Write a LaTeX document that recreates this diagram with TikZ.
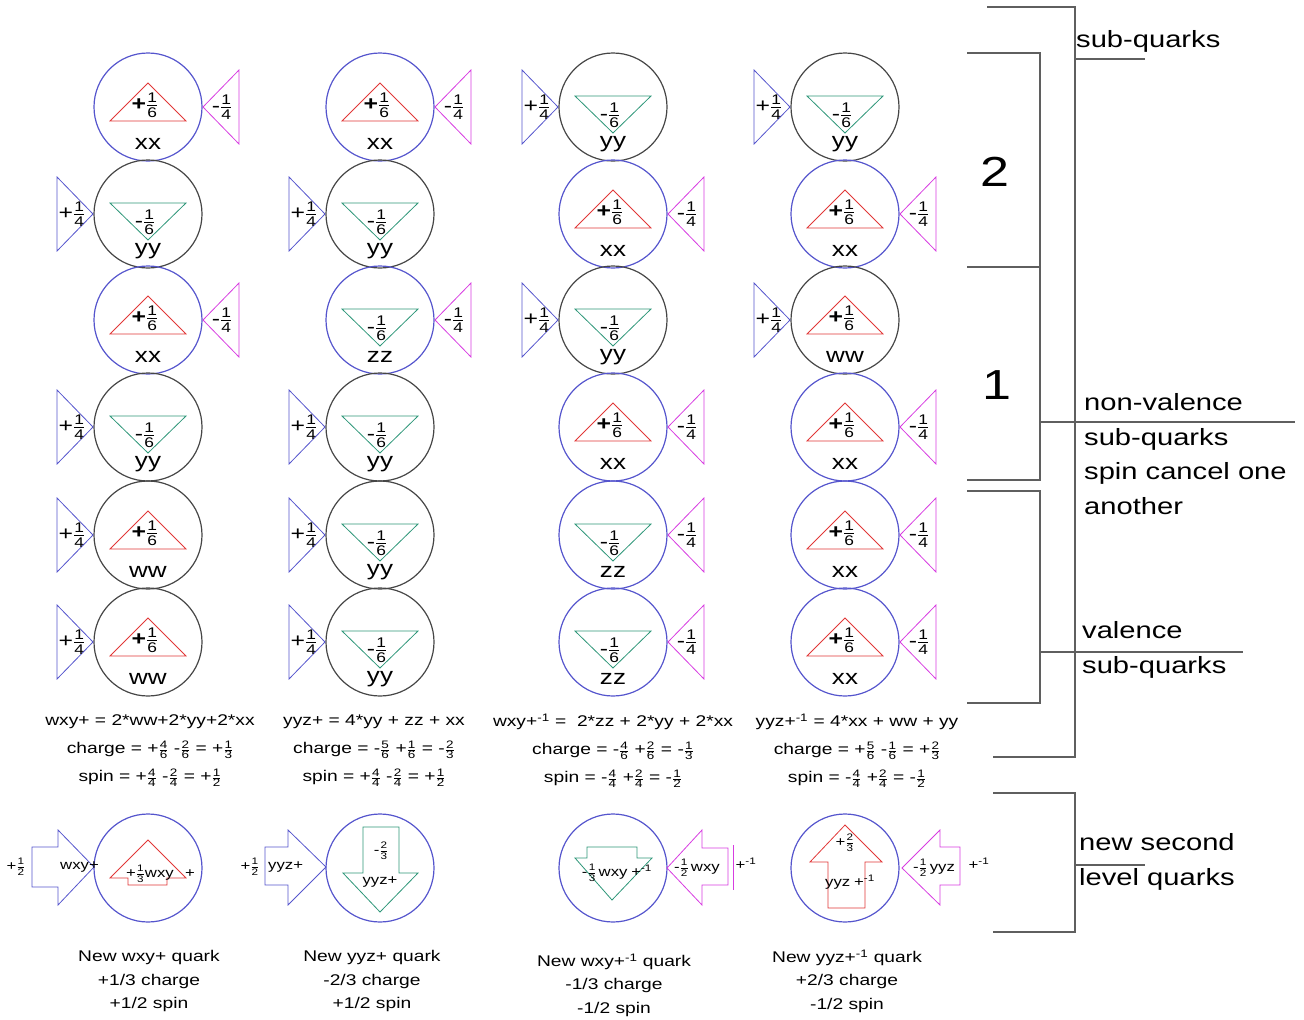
\documentclass[tikz,border=0pt]{standalone}
\usepackage{amsmath}
\usepackage{fontspec}
\setmainfont{Liberation Sans}[FakeStretch=1.24]
\usepackage{tikz}

\definecolor{qblue}{RGB}{85,85,205}
\definecolor{qgray}{RGB}{70,70,70}
\definecolor{qred}{RGB}{225,55,55}
\definecolor{qgreen}{RGB}{45,150,120}
\definecolor{qmag}{RGB}{215,60,225}
\definecolor{qline}{RGB}{95,95,95}

\newcommand{\qfrac}[2]{$\frac{\text{#1}}{\text{#2}}$}
\newcommand{\fsz}[1]{\fontsize{#1}{#1}\selectfont}

\tikzset{
  bluecirc/.style={draw=qblue, line width=1.2pt},
  graycirc/.style={draw=qgray, line width=1.2pt},
  redtri/.style={draw=qred, line width=0.8pt},
  greentri/.style={draw=qgreen, line width=0.8pt},
  spinleft/.style={draw=qblue, line width=0.8pt},
  spinright/.style={draw=qmag, line width=0.8pt},
  qtxt/.style={inner sep=0pt, font=\fsz{20}},
  smtxt/.style={inner sep=0pt, font=\fsz{13.5}},
  lab/.style={inner sep=0pt, font=\fsz{21}},
  eqtxt/.style={align=center, inner sep=0pt, font=\fontsize{15.5}{28}\selectfont},
  captxt/.style={align=center, inner sep=0pt, font=\fontsize{15.5}{23.5}\selectfont},
  bline/.style={draw=qline, line width=1.3pt},
  sidetxt/.style={anchor=west, inner sep=0pt, align=left, font=\fontsize{23.5}{34.5}\selectfont},
}

\newcommand{\triu}[3]{%
  \draw[redtri] (#1-38,#2+14) -- (#1,#2-24) -- (#1+38,#2+14) -- cycle;
  \node[qtxt] (#3-q) at (#1-3,#2-2) {\textbf{+}\qfrac{1}{6}};}
\newcommand{\trid}[3]{%
  \draw[greentri] (#1-38,#2-11) -- (#1+38,#2-11) -- (#1,#2+26) -- cycle;
  \node[qtxt] (#3-q) at (#1-3,#2+8) {-\qfrac{1}{6}};}
\newcommand{\spinL}[3]{%
  \draw[graycirc] (#1,#2) circle (54pt);
  \draw[spinleft] (#1-91,#2-37) -- (#1-55,#2) -- (#1-91,#2+37) -- cycle;
  \node[qtxt] (#3-s) at (#1-76,#2) {+\qfrac{1}{4}};}
\newcommand{\spinR}[3]{%
  \draw[bluecirc] (#1,#2) circle (54pt);
  \draw[spinright] (#1+91,#2-37) -- (#1+55,#2) -- (#1+91,#2+37) -- cycle;
  \node[qtxt] (#3-s) at (#1+74,#2) {-\qfrac{1}{4}};}

\begin{document}
\begin{tikzpicture}[x=1pt,y=-1pt]
\useasboundingbox (0,0) rectangle (1304,1020);

\foreach \cx/\cy/\k/\lab/\sd [count=\i] in {
  148/107/u/xx/R, 148/214/d/yy/L, 148/320/u/xx/R, 148/427/d/yy/L, 148/535/u/ww/L, 148/642/u/ww/L,
  380/107/u/xx/R, 380/214/d/yy/L, 380/320/d/zz/R, 380/427/d/yy/L, 380/535/d/yy/L, 380/642/d/yy/L,
  613/107/d/yy/L, 613/214/u/xx/R, 613/320/d/yy/L, 613/427/u/xx/R, 613/535/d/zz/R, 613/642/d/zz/R,
  845/107/d/yy/L, 845/214/u/xx/R, 845/320/u/ww/L, 845/427/u/xx/R, 845/535/u/xx/R, 845/642/u/xx/R}
{
  \csname spin\sd\endcsname{\cx}{\cy}{n\i}
  \csname tri\k\endcsname{\cx}{\cy}{n\i}
  \node[lab] (n\i-l) at (\cx,\cy+37) {\lab};
}

\node[eqtxt] (eq1) at (150,751) {wxy+ = 2*ww+2*yy+2*xx\\charge = +\qfrac{4}{6} -\qfrac{2}{6} = +\qfrac{1}{3}\\spin = +\qfrac{4}{4} -\qfrac{2}{4} = +\qfrac{1}{2}};
\node[eqtxt] (eq2) at (374,751) {yyz+ = 4*yy + zz + xx\\charge = -\qfrac{5}{6} +\qfrac{1}{6} = -\qfrac{2}{3}\\spin = +\qfrac{4}{4} -\qfrac{2}{4} = +\qfrac{1}{2}};
\node[eqtxt] (eq3) at (613,751) {wxy+\textsuperscript{-1} = \ 2*zz + 2*yy + 2*xx\\charge = -\qfrac{4}{6} +\qfrac{2}{6} = -\qfrac{1}{3}\\spin = -\qfrac{4}{4} +\qfrac{2}{4} = -\qfrac{1}{2}};
\node[eqtxt] (eq4) at (857,751) {yyz+\textsuperscript{-1} = 4*xx + ww + yy\\charge = +\qfrac{5}{6} -\qfrac{1}{6} = +\qfrac{2}{3}\\spin = -\qfrac{4}{4} +\qfrac{2}{4} = -\qfrac{1}{2}};

\draw[bluecirc] (148,868) circle (54pt);
\draw[spinleft] (32,847) -- (58,847) -- (58,830) -- (94,867) -- (58,905) -- (58,887) -- (32,887) -- cycle;
\node[smtxt] (b1s) at (16,867) {+\qfrac{1}{2}};
\node[smtxt, anchor=west] (b1n) at (60,867) {wxy+};
\draw[redtri] (110,878) -- (148,840) -- (186,878) -- (167,878) -- (167,885) -- (128,885) -- (128,878) -- cycle;
\node[smtxt] (b1q) at (150,874) {+\qfrac{1}{3}wxy};
\node[smtxt] (b1e) at (190,874) {+};

\draw[bluecirc] (380,868) circle (54pt);
\draw[spinleft] (265,847) -- (288,847) -- (288,830) -- (326,867) -- (288,905) -- (288,885) -- (265,885) -- cycle;
\node[smtxt] (b2s) at (250,867) {+\qfrac{1}{2}};
\node[smtxt, anchor=west] (b2n) at (268,867) {yyz+};
\draw[greentri] (363,827) -- (399,827) -- (399,873) -- (418,873) -- (380,912) -- (343,873) -- (363,873) -- cycle;
\node[smtxt] (b2q) at (381,851) {-\qfrac{2}{3}};
\node[smtxt] (b2m) at (380,882) {yyz+};

\draw[bluecirc] (613,868) circle (54pt);
\draw[greentri] (587,847) -- (637,847) -- (637,858) -- (652,858) -- (612,900) -- (575,858) -- (587,858) -- cycle;
\node[smtxt] (b3q) at (617,873) {-\qfrac{1}{3}\,wxy\;+\textsuperscript{-1}};
\draw[spinright] (667,868) -- (702,830) -- (702,848) -- (728,848) -- (728,885) -- (702,885) -- (702,905) -- cycle;
\draw[spinright] (733,845) -- (733,890);
\node[smtxt] (b3n) at (697,868) {-\qfrac{1}{2}\,wxy};
\node[smtxt] (b3e) at (746,864) {+\textsuperscript{-1}};

\draw[bluecirc] (845,868) circle (54pt);
\draw[redtri] (828,908) -- (828,862) -- (810,862) -- (845,825) -- (882,862) -- (865,862) -- (865,908) -- cycle;
\node[smtxt] (b4q) at (845,843) {+\qfrac{2}{3}};
\node[smtxt] (b4m) at (850,882) {yyz\;+\textsuperscript{-1}};
\draw[spinright] (902,868) -- (940,830) -- (940,847) -- (960,847) -- (960,885) -- (940,885) -- (940,905) -- cycle;
\node[smtxt] (b4n) at (934,868) {-\qfrac{1}{2}\,yyz};
\node[smtxt] (b4e) at (979,864) {+\textsuperscript{-1}};

\node[captxt] (cap1) at (149,981) {New wxy+ quark\\+1/3 charge\\+1/2 spin};
\node[captxt] (cap2) at (372,981) {New yyz+ quark\\-2/3 charge\\+1/2 spin};
\node[captxt] (cap3) at (614,985) {New wxy+\textsuperscript{-1} quark\\-1/3 charge\\-1/2 spin};
\node[captxt] (cap4) at (847,981) {New yyz+\textsuperscript{-1} quark\\+2/3 charge\\-1/2 spin};

\draw[bline] (987,7) -- (1075,7) -- (1075,757) -- (993,757);
\draw[bline] (1075,59) -- (1145,59);
\draw[bline] (967,53) -- (1040,53) -- (1040,480) -- (967,480);
\draw[bline] (967,267) -- (1040,267);
\draw[bline] (1040,422) -- (1295,422);
\draw[bline] (967,491) -- (1040,491) -- (1040,703) -- (967,703);
\draw[bline] (1040,652) -- (1243,652);
\draw[bline] (993,793) -- (1075,793) -- (1075,932) -- (993,932);
\draw[bline] (1075,865) -- (1145,865);

\node[sidetxt] (subq) at (1076,41) {sub-quarks};
\node[inner sep=0pt, font=\fsz{42}] (two) at (995,172) {2};
\node[inner sep=0pt, font=\fsz{42}] (one) at (997,385) {1};
\node[sidetxt] (nonval) at (1084,454) {non-valence\\sub-quarks\\spin cancel one\\another};
\node[sidetxt] (val) at (1082,650) {valence\\sub-quarks};
\node[sidetxt] (second) at (1079,862) {new second\\level quarks};
\end{tikzpicture}
\end{document}
